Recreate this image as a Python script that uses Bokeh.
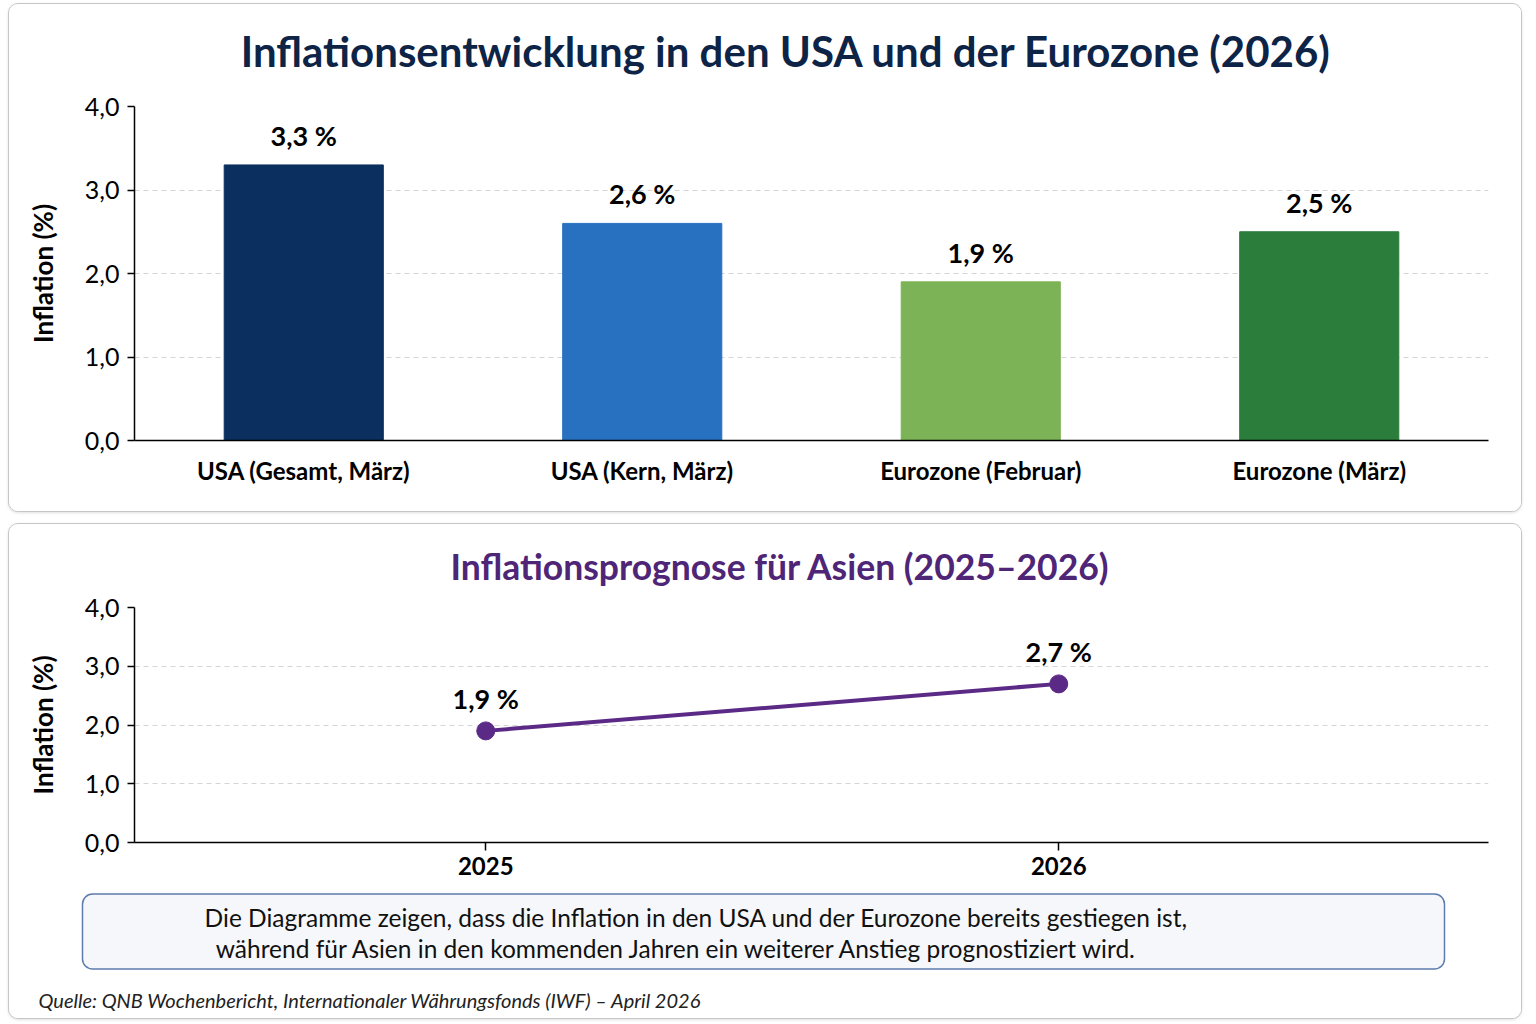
from bokeh.plotting import figure
from bokeh.layouts import column
from bokeh.models import (ColumnDataSource, FactorRange, Range1d, FixedTicker,
                          CustomJSTickFormatter, Label, BoxAnnotation)
from bokeh.embed import file_html
from bokeh.resources import INLINE
from bokeh.core.properties import value

# ---------------- data ----------------
categories = ["USA (Gesamt, März)", "USA (Kern, März)", "Eurozone (Februar)", "Eurozone (März)"]
inflation_values = [3.3, 2.6, 1.9, 2.5]
value_labels = ["3,3 %", "2,6 %", "1,9 %", "2,5 %"]
bar_colors = ["#0b2f5e", "#2870c0", "#7cb356", "#2b7d3b"]

years = [2025, 2026]
asia_values = [1.9, 2.7]
asia_labels = ["1,9 %", "2,7 %"]

y_ticks = [0, 1, 2, 3, 4]

title_top = "Inflationsentwicklung in den USA und der Eurozone (2026)"
title_bottom = "Inflationsprognose für Asien (2025–2026)"
caption_line1 = "Die Diagramme zeigen, dass die Inflation in den USA und der Eurozone bereits gestiegen ist,"
caption_line2 = "während für Asien in den kommenden Jahren ein weiterer Anstieg prognostiziert wird."
source_note = "Quelle: QNB Wochenbericht, Internationaler Währungsfonds (IWF) – April 2026"

FONT = "Lato"
W = 1512
PANEL_STYLE = {"border": "1.5px solid #c6c6c6", "border-radius": "10px",
               "box-shadow": "0 1px 3px rgba(0,0,0,0.12)", "overflow": "hidden",
               "background-color": "white"}

fmt = CustomJSTickFormatter(code="return tick.toFixed(1).replace('.', ',');")


def blank_fig(height):
    f = figure(width=W, height=height, x_range=Range1d(0, W), y_range=Range1d(height, 0),
               output_backend="svg", toolbar_location=None, x_axis_type=None,
               y_axis_type=None, min_border=0, min_border_left=0, min_border_right=0,
               min_border_top=0, min_border_bottom=0)
    f.frame_align = False
    f.grid.grid_line_color = None
    f.outline_line_color = None
    f.border_fill_color = "white"
    f.background_fill_color = "white"
    return f


def style_axes(p):
    for ax in (p.xaxis[0], p.yaxis[0]):
        ax.axis_line_color = "black"
        ax.axis_line_width = 1.5
        ax.major_label_text_font = FONT
        ax.major_label_text_color = "black"
        ax.minor_tick_line_color = None
        ax.major_tick_in = 0
    p.yaxis.ticker = FixedTicker(ticks=y_ticks)
    p.yaxis.formatter = fmt
    p.yaxis.major_tick_out = 7
    p.yaxis.major_tick_line_color = "black"
    p.yaxis.major_tick_line_width = 1.5
    p.yaxis.major_label_text_font_size = "25px"
    p.yaxis.major_label_standoff = 8
    p.yaxis.axis_label = "Inflation (%)"
    p.yaxis.axis_label_text_font = FONT
    p.yaxis.axis_label_text_font_style = "bold"
    p.yaxis.axis_label_text_font_size = "26px"
    p.yaxis.axis_label_text_color = "black"
    p.yaxis.axis_label_standoff = 23
    p.xgrid.grid_line_color = None
    p.ygrid.grid_line_color = "#d4d4d4"
    p.ygrid.grid_line_dash = "5 4"
    p.ygrid.grid_line_width = 1
    p.outline_line_color = None
    p.background_fill_color = "white"
    p.border_fill_color = "white"
    p.frame_align = False


# ---------------- top panel ----------------
h1 = blank_fig(80)
h1.add_layout(Label(x=777, y=46, text=title_top, text_align="center",
                    text_baseline="middle", text_font=FONT, text_font_style="bold",
                    text_font_size="42px", text_color="#0d2447"))

src_bar = ColumnDataSource(dict(cat=categories, val=inflation_values,
                                lab=value_labels, color=bar_colors))

p1 = figure(width=W, height=427, x_range=FactorRange(*categories),
            y_range=Range1d(0, 4), output_backend="svg", toolbar_location=None,
            min_border_left=125, min_border_right=33, min_border_top=22,
            min_border_bottom=71)
p1.vbar(x="cat", top="val", width=0.47, color="color", source=src_bar)
p1.text(x="cat", y="val", text="lab", source=src_bar, text_align="center",
        text_baseline="bottom", y_offset=-13, text_font=value(FONT),
        text_font_style="bold", text_font_size="27px", text_color="black")
style_axes(p1)
p1.xaxis.major_tick_out = 0
p1.xaxis.major_tick_line_color = None
p1.xaxis.major_label_text_font_style = "bold"
p1.xaxis.major_label_text_font_size = "24px"
p1.xaxis.major_label_standoff = 15

top = column(h1, p1, spacing=0, margin=(3, 0, 0, 8), styles=PANEL_STYLE)

# ---------------- bottom panel ----------------
h2 = blank_fig(65)
h2.add_layout(Label(x=771, y=41.5, text=title_bottom, text_align="center",
                    text_baseline="middle", text_font=FONT, text_font_style="bold",
                    text_font_size="35.5px", text_color="#4e2577"))

src_line = ColumnDataSource(dict(year=years, val=asia_values, lab=asia_labels))

p2 = figure(width=W, height=298, x_range=Range1d(2024.387, 2026.75),
            y_range=Range1d(0, 4), output_backend="svg", toolbar_location=None,
            min_border_left=125, min_border_right=33, min_border_top=18,
            min_border_bottom=45)
p2.line(x="year", y="val", source=src_line, line_width=4, line_color="#5b2a86")
p2.scatter(x="year", y="val", source=src_line, size=18, color="#5b2a86")
p2.text(x="year", y="val", text="lab", source=src_line, text_align="center",
        text_baseline="bottom", y_offset=-16, text_font=value(FONT),
        text_font_style="bold", text_font_size="27px", text_color="black")
style_axes(p2)
p2.xaxis.ticker = FixedTicker(ticks=years)
p2.xaxis.major_tick_out = 8
p2.xaxis.major_tick_line_color = "black"
p2.xaxis.major_tick_line_width = 1.5
p2.xaxis.major_label_text_font_style = "bold"
p2.xaxis.major_label_text_font_size = "24px"
p2.xaxis.major_label_standoff = 6

p3 = blank_fig(131)
p3.add_layout(BoxAnnotation(left=73, right=1435, top=6.5, bottom=81.5,
                            fill_color="#f5f7fa", fill_alpha=1.0,
                            line_color="#5d7cad", line_alpha=1.0, line_width=1.5,
                            border_radius=10))
p3.add_layout(Label(x=687, y=29.5, text=caption_line1, text_align="center",
                    text_baseline="middle", text_font=FONT, text_font_size="24.5px",
                    text_color="#111111"))
p3.add_layout(Label(x=668, y=60.5, text=caption_line2, text_align="center",
                    text_baseline="middle", text_font=FONT, text_font_size="24.5px",
                    text_color="#111111"))
p3.add_layout(Label(x=29, y=112, text=source_note, text_align="left",
                    text_baseline="middle", text_font=FONT, text_font_style="italic",
                    text_font_size="20px", text_color="#222222"))

bottom = column(h2, p2, p3, spacing=0, margin=(11, 0, 0, 8), styles=PANEL_STYLE)

layout = column(top, bottom, spacing=0)
open("out.html", "w").write(file_html(layout, INLINE))
